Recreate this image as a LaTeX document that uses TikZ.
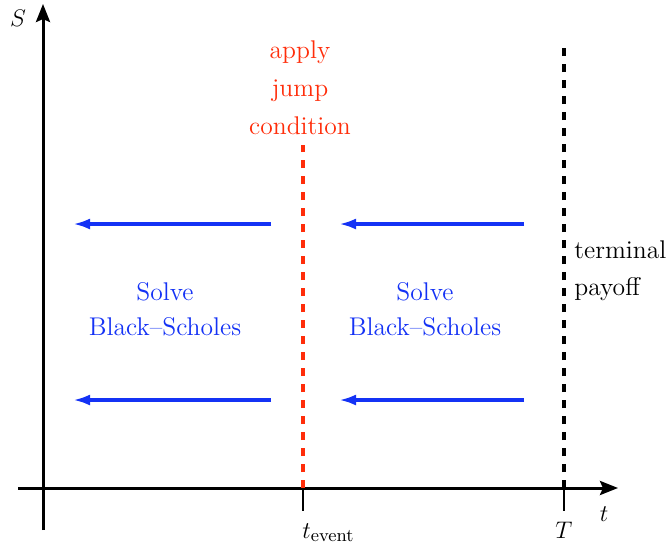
\documentclass[tikz,border=0pt]{standalone}
\usetikzlibrary{arrows.meta}
\definecolor{evred}{RGB}{255,45,10}
\definecolor{solveblue}{RGB}{20,50,245}
\newcommand{\lblsize}{\fontsize{12.8}{15}\selectfont}
\tikzset{
  axis/.style={line width=1.5pt,-{Stealth[length=9pt,width=7pt,inset=1.5pt]}},
  tickmark/.style={line width=0.6pt},
  evline/.style={line width=1.6pt,dash pattern=on 4pt off 4pt},
  flow/.style={solveblue,line width=1.8pt,-{Latex[length=8.5pt,width=5.5pt]}},
  lbl/.style={font=\lblsize,inner sep=0pt},
}
\begin{document}
\begin{tikzpicture}[x=0.5pt,y=-0.5pt]
\useasboundingbox (0,0) rectangle (666,548);
% axes
\coordinate (ys) at (43,530);
\coordinate (ye) at (43,4);
\coordinate (xs) at (18,488);
\coordinate (xe) at (618,488);
\draw[axis] (ys) -- (ye);
\draw[axis] (xs) -- (xe);
\node[lbl] (S) at (18,18) {$S$};
\node[lbl] (t) at (604,514) {$t$};
% event line and maturity line
\coordinate (ev0) at (303,488);
\coordinate (ev1) at (303,145);
\coordinate (evt) at (303,511);
\coordinate (T0) at (564,488);
\coordinate (T1) at (564,48);
\coordinate (Tt) at (564,511);
\draw[evline,evred] (ev0) -- (ev1);
\draw[evline,black] (T0) -- (T1);
\draw[tickmark] (ev0) -- (evt);
\draw[tickmark] (T0) -- (Tt);
\node[lbl,anchor=base west] (tev) at (302,538) {$t_{\mathrm{event}}$};
\node[lbl,anchor=base] (TT) at (564,538) {$T$};
% labels
\node[lbl,evred,align=center,font={\lblsize\baselineskip=19pt}] (jump) at (300,88) {apply\\jump\\condition};
\node[lbl,anchor=west,align=left,font={\lblsize\baselineskip=18.5pt}] (pay) at (574,271) {terminal\\payoff};
\node[lbl,solveblue,align=center,font={\lblsize\baselineskip=17.5pt}] (bs1) at (165,309) {Solve\\Black--Scholes};
\node[lbl,solveblue,align=center,font={\lblsize\baselineskip=17.5pt}] (bs2) at (425,309) {Solve\\Black--Scholes};
% arrows
\coordinate (a1s) at (271,224); \coordinate (a1e) at (73,224);
\coordinate (a2s) at (271,400); \coordinate (a2e) at (73,400);
\coordinate (a3s) at (524,224); \coordinate (a3e) at (339,224);
\coordinate (a4s) at (524,400); \coordinate (a4e) at (339,400);
\draw[flow] (a1s) -- (a1e);
\draw[flow] (a2s) -- (a2e);
\draw[flow] (a3s) -- (a3e);
\draw[flow] (a4s) -- (a4e);
\end{tikzpicture}
\end{document}
